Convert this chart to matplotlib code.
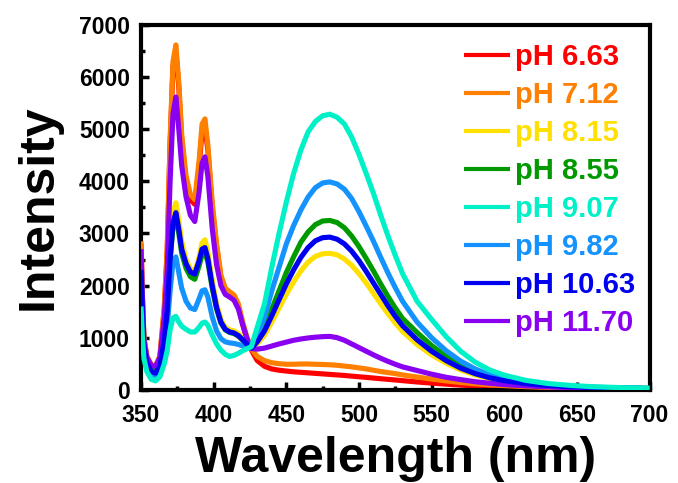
import matplotlib
matplotlib.use("Agg")
import matplotlib.pyplot as plt
from matplotlib.ticker import MultipleLocator

plt.rcParams['font.family'] = ['Liberation Sans', 'DejaVu Sans']
plt.rcParams['font.weight'] = 'bold'

wavelength = [350, 351, 352, 354, 357, 360, 363, 366, 368, 370, 372, 374, 376, 378, 381, 384, 387,
              390, 392, 394, 396, 399, 402, 405, 408, 411, 414, 417, 420, 423, 426,
              430, 435, 440, 445, 450, 455, 460, 465, 470, 475, 480, 485, 490, 495, 500, 505,
              510, 515, 520, 525, 530, 540, 550, 560, 570, 580, 590, 600, 615, 630, 645, 660, 680, 700]

labels = ['pH 6.63', 'pH 7.12', 'pH 8.15', 'pH 8.55', 'pH 9.07', 'pH 9.82', 'pH 10.63', 'pH 11.70']
colors = ['#FF0000', '#FF8000', '#FFE000', '#009A00', '#00F0C8', '#1493FF', '#0000F0', '#8A00F0']

ph_6_63 = [2800, 1750, 980, 640, 470, 450, 630, 1550, 2650, 4700, 6200, 6500, 5800, 4800, 4000, 3650, 3560,
           4300, 4950, 5050, 4600, 3500, 2750, 2150, 1900, 1840, 1780, 1600, 1250, 960, 760,
           560, 450, 400, 375, 360, 345, 335, 325, 315, 305, 295, 285, 275, 262, 250, 238,
           225, 212, 200, 188, 175, 150, 128, 108, 90, 75, 62, 52, 40, 30, 24, 18, 13, 10]
ph_7_12 = [2850, 1800, 1000, 650, 480, 460, 650, 1600, 2700, 4800, 6300, 6620, 5900, 4900, 4100, 3750, 3650,
           4400, 5100, 5200, 4700, 3600, 2800, 2200, 1950, 1880, 1820, 1650, 1300, 1000, 780,
           640, 560, 520, 500, 490, 490, 495, 495, 490, 485, 480, 470, 455, 440, 420, 400,
           375, 350, 330, 310, 285, 245, 205, 170, 140, 115, 95, 80, 60, 45, 35, 28, 20, 15]
ph_8_15 = [2450, 1500, 850, 550, 400, 380, 520, 1000, 1600, 2600, 3400, 3590, 3250, 2850, 2500, 2320, 2270,
           2550, 2820, 2880, 2650, 2100, 1650, 1350, 1200, 1150, 1130, 1080, 980, 880, 800,
           880, 1050, 1300, 1570, 1830, 2070, 2280, 2450, 2560, 2610, 2620, 2590, 2510, 2390, 2230, 2050,
           1850, 1650, 1460, 1280, 1120, 870, 670, 510, 380, 285, 215, 165, 112, 78, 57, 43, 32, 24]
ph_8_55 = [2420, 1500, 850, 540, 390, 360, 500, 950, 1500, 2450, 3150, 3330, 3000, 2620, 2330, 2170, 2120,
           2380, 2600, 2640, 2450, 1950, 1550, 1280, 1150, 1100, 1080, 1030, 950, 860, 800,
           950, 1200, 1550, 1900, 2250, 2550, 2830, 3030, 3170, 3240, 3250, 3210, 3110, 2950, 2750, 2520,
           2280, 2030, 1790, 1570, 1370, 1100, 850, 640, 470, 350, 260, 195, 130, 90, 62, 46, 34, 26]
ph_9_07 = [1600, 1000, 600, 350, 200, 170, 250, 500, 750, 1150, 1380, 1410, 1300, 1220, 1160, 1110, 1110,
           1200, 1280, 1300, 1240, 1050, 880, 760, 680, 640, 660, 700, 750, 790, 830,
           1200, 1650, 2350, 3000, 3600, 4150, 4600, 4950, 5150, 5260, 5290, 5230, 5100, 4850, 4520, 4150,
           3770, 3350, 2950, 2580, 2230, 1700, 1350, 1020, 740, 530, 380, 280, 180, 120, 85, 60, 42, 30]
ph_9_82 = [2000, 1250, 750, 450, 300, 270, 380, 800, 1200, 1900, 2450, 2550, 2250, 1950, 1700, 1570, 1540,
           1750, 1900, 1920, 1780, 1400, 1130, 980, 920, 900, 890, 870, 840, 810, 800,
           1050, 1400, 1900, 2350, 2800, 3150, 3450, 3700, 3880, 3970, 3990, 3950, 3850, 3670, 3420, 3140,
           2850, 2540, 2240, 1960, 1700, 1300, 1000, 750, 550, 400, 290, 215, 140, 95, 68, 50, 36, 27]
ph_10_63 = [2300, 1450, 820, 520, 350, 320, 450, 950, 1500, 2500, 3200, 3400, 3080, 2700, 2420, 2260, 2220,
            2480, 2700, 2730, 2520, 2000, 1580, 1300, 1160, 1110, 1090, 1040, 960, 870, 800,
            920, 1130, 1420, 1730, 2030, 2300, 2540, 2730, 2860, 2920, 2930, 2890, 2800, 2660, 2480, 2270,
            2050, 1830, 1610, 1410, 1230, 960, 740, 560, 415, 310, 230, 175, 118, 82, 60, 45, 33, 25]
ph_11_70 = [2700, 1700, 950, 620, 470, 450, 620, 1400, 2300, 4000, 5300, 5620, 5000, 4300, 3700, 3350, 3230,
            3800, 4350, 4470, 4100, 3100, 2400, 2000, 1830, 1780, 1720, 1550, 1250, 980, 790,
            780, 800, 840, 880, 915, 950, 975, 995, 1010, 1020, 1025, 1000, 950, 880, 810, 740,
            670, 605, 545, 490, 440, 370, 300, 240, 195, 155, 125, 100, 75, 55, 42, 33, 24, 18]

series = [ph_6_63, ph_7_12, ph_8_15, ph_8_55, ph_9_07, ph_9_82, ph_10_63, ph_11_70]
zorders = [2, 3, 3, 3, 6, 4, 5, 4]

fig = plt.figure(figsize=(6.78, 4.83), dpi=100)
ax = fig.add_axes([0.208, 0.193, 0.750, 0.755])

for y, lab, c, z in zip(series, labels, colors, zorders):
    ax.plot(wavelength, y, color=c, lw=3.7, label=lab, zorder=z,
            solid_joinstyle='round', solid_capstyle='butt')

ax.set_xlim(350, 700)
ax.set_ylim(0, 7000)
ax.xaxis.set_major_locator(MultipleLocator(50))
ax.xaxis.set_minor_locator(MultipleLocator(25))
ax.yaxis.set_major_locator(MultipleLocator(1000))
ax.yaxis.set_minor_locator(MultipleLocator(500))
ax.tick_params(which='both', direction='in', top=False, right=False, width=2.5)
ax.tick_params(which='major', length=6, labelsize=16.5)
ax.tick_params(axis='x', which='major', pad=10)
ax.tick_params(axis='y', which='major', pad=8)
ax.tick_params(which='minor', length=3)
for lab in ax.get_xticklabels() + ax.get_yticklabels():
    lab.set_fontweight('bold')
for s in ax.spines.values():
    s.set_linewidth(3.0)

ax.set_xlabel('Wavelength (nm)', fontsize=36, fontweight='bold', labelpad=7)
ax.set_ylabel('Intensity', fontsize=36, fontweight='bold', labelpad=12)

leg = ax.legend(loc='upper right', frameon=False, fontsize=21, handlelength=1.6,
                handletextpad=0.15, labelspacing=0.34, borderaxespad=0.1,
                bbox_to_anchor=(1.0, 0.99))
for h in leg.get_lines():
    h.set_linewidth(3.0)
for t, c in zip(leg.get_texts(), colors):
    t.set_color(c)
    t.set_fontweight('bold')

fig.savefig('out.png', dpi=100)
